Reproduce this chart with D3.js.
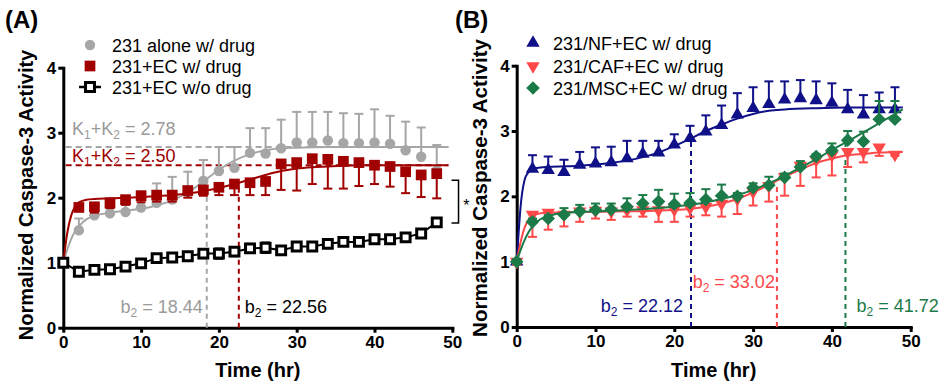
<!DOCTYPE html>
<html lang="en">
<head>
<meta charset="UTF-8">
<title>Caspase-3 activity</title>
<script src="https://cdn.jsdelivr.net/npm/d3@7"></script>
<style>
	body { margin: 0; background: #fff; }
	text { font-family: "Liberation Sans", Arial, sans-serif; }
</style>
</head>
<body>
<svg id="viz"></svg>
<script>
// Sampling times (hr) ---
const hours = [0, 2, 4, 6, 8, 10, 12, 14, 16, 18, 20, 22, 24, 26, 28, 30, 32, 34, 36, 38, 40, 42, 44, 46, 48];

// Panel A data ---
const aloneMean = [1.00, 1.50, 1.73, 1.76, 1.78, 1.85, 1.92, 1.97, 2.08, 2.26, 2.41, 2.46, 2.69, 2.68, 2.76, 2.85, 2.85, 2.88, 2.84, 2.84, 2.85, 2.83, 2.73, 2.63, 2.42];
const aloneErr = [0, 0.18, 0.10, 0.10, 0.15, 0.25, 0.30, 0.35, 0.32, 0.32, 0.37, 0.32, 0.38, 0.39, 0.44, 0.47, 0.47, 0.44, 0.46, 0.45, 0.51, 0.43, 0.44, 0.45, 0.39];
const ecDrugMean = [1.00, 1.85, 1.86, 1.92, 1.97, 2.03, 2.04, 2.04, 2.11, 2.12, 2.16, 2.21, 2.23, 2.25, 2.52, 2.54, 2.60, 2.59, 2.56, 2.54, 2.50, 2.48, 2.40, 2.35, 2.37];
const ecDrugErr = [0, 0.05, 0.09, 0.08, 0.08, 0.10, 0.10, 0.10, 0.11, 0.09, 0.12, 0.17, 0.19, 0.21, 0.40, 0.43, 0.39, 0.45, 0.42, 0.36, 0.29, 0.31, 0.33, 0.34, 0.38];
const ecNoDrugMean = [1.00, 0.86, 0.89, 0.90, 0.94, 0.99, 1.07, 1.08, 1.10, 1.14, 1.14, 1.17, 1.22, 1.23, 1.19, 1.25, 1.25, 1.29, 1.32, 1.32, 1.36, 1.36, 1.39, 1.45, 1.62];
const ecNoDrugErr = [0.04, 0.04, 0.04, 0.04, 0.04, 0.05, 0.05, 0.05, 0.05, 0.07, 0.08, 0.07, 0.07, 0.08, 0.04, 0.04, 0.04, 0.04, 0.04, 0.04, 0.04, 0.04, 0.04, 0.04, 0.04];

// fitted curves
const aloneFitT = [0, 0.5, 1, 1.5, 2, 3, 4, 6, 8, 10, 12, 14, 16, 18, 20, 22, 24, 26, 28, 30, 34, 40, 49.5];
const aloneFitV = [1.00, 1.20, 1.36, 1.48, 1.56, 1.67, 1.72, 1.77, 1.80, 1.83, 1.88, 1.96, 2.08, 2.25, 2.43, 2.57, 2.67, 2.73, 2.76, 2.77, 2.78, 2.78, 2.78];
const ecDrugFitT = [0, 0.5, 1, 1.5, 2, 3, 4, 6, 10, 14, 18, 20, 22, 24, 26, 28, 30, 32, 34, 38, 49.5];
const ecDrugFitV = [1.00, 1.45, 1.72, 1.86, 1.93, 1.97, 1.98, 1.99, 2.01, 2.04, 2.10, 2.15, 2.21, 2.28, 2.35, 2.41, 2.45, 2.47, 2.48, 2.50, 2.50];

const plateauA = [2.78, 2.50];
const b2A = [18.44, 22.56];
const b2TopA = [2.27, 2.22];

// Panel B data ---
const nfMean = [1.00, 2.42, 2.40, 2.37, 2.48, 2.50, 2.52, 2.58, 2.65, 2.67, 2.79, 2.89, 2.99, 3.09, 3.25, 3.35, 3.41, 3.48, 3.50, 3.47, 3.43, 3.33, 3.25, 3.33, 3.33];
const nfErr = [0, 0.21, 0.21, 0.19, 0.20, 0.25, 0.24, 0.27, 0.20, 0.18, 0.16, 0.19, 0.25, 0.30, 0.33, 0.32, 0.35, 0.28, 0.28, 0.29, 0.30, 0.30, 0.30, 0.26, 0.34];
const cafMean = [1.00, 1.72, 1.75, 1.72, 1.77, 1.78, 1.77, 1.79, 1.79, 1.79, 1.80, 1.82, 1.84, 1.89, 1.96, 2.07, 2.16, 2.30, 2.47, 2.56, 2.63, 2.68, 2.68, 2.75, 2.64];
const cafErr = [0.05, 0.34, 0.26, 0.18, 0.16, 0.12, 0.13, 0.10, 0.10, 0.18, 0.19, 0.13, 0.13, 0.20, 0.23, 0.21, 0.24, 0.29, 0.31, 0.27, 0.31, 0.23, 0.16, 0.13, 0.02];
const mscMean = [1.00, 1.61, 1.66, 1.72, 1.77, 1.79, 1.80, 1.84, 1.89, 1.92, 1.88, 1.90, 1.95, 2.01, 2.00, 2.13, 2.17, 2.29, 2.45, 2.61, 2.70, 2.86, 2.84, 3.18, 3.18];
const mscErr = [0.04, 0.05, 0.05, 0.10, 0.10, 0.10, 0.09, 0.13, 0.13, 0.18, 0.16, 0.15, 0.16, 0.17, 0.05, 0.07, 0.13, 0.06, 0.09, 0.04, 0.11, 0.14, 0.15, 0.28, 0.28];

const nfFitT = [0, 0.25, 0.5, 1, 1.5, 2, 3, 4, 8, 12, 16, 18, 20, 22, 24, 26, 28, 30, 32, 34, 38, 42, 49];
const nfFitV = [1.00, 1.45, 1.85, 2.25, 2.37, 2.42, 2.44, 2.45, 2.47, 2.51, 2.60, 2.67, 2.77, 2.88, 3.00, 3.10, 3.19, 3.26, 3.31, 3.33, 3.35, 3.36, 3.36];
const cafFitT = [0, 0.5, 1, 1.5, 2, 3, 4, 8, 14, 20, 24, 26, 28, 30, 32, 34, 36, 38, 40, 42, 44, 46, 49];
const cafFitV = [1.00, 1.30, 1.52, 1.64, 1.70, 1.74, 1.75, 1.76, 1.77, 1.79, 1.84, 1.89, 1.96, 2.06, 2.18, 2.30, 2.41, 2.51, 2.58, 2.63, 2.65, 2.67, 2.68];
const mscFitT = [0, 0.5, 1, 1.5, 2, 3, 4, 6, 10, 14, 18, 22, 24, 26, 28, 30, 32, 34, 36, 38, 40, 42, 44, 46, 49];
const mscFitV = [1.00, 1.18, 1.33, 1.45, 1.54, 1.65, 1.70, 1.75, 1.77, 1.79, 1.82, 1.87, 1.91, 1.96, 2.02, 2.10, 2.20, 2.31, 2.44, 2.57, 2.71, 2.84, 2.98, 3.12, 3.33];

const b2B = [22.12, 33.02, 41.72];
const b2TopB = [2.88, 2.18, 2.82];

// Colours ---
const C = {
	gray: '#a6a6a6',
	darkRed: '#a00000',
	black: '#000',
	navy: '#101088',
	red: '#ff4848',
	green: '#1b7a47'
};

const W = 947, H = 387;
const svg = d3.select('#viz').attr('width', W).attr('height', H);

// Helpers ---
function drawAxes(g, x, y, yLabelX, yLabelY, yLabelSize) {
	const ax = g.append('g').attr('transform', `translate(0,${y(0)})`)
		.call(d3.axisBottom(x).tickValues([0, 10, 20, 30, 40, 50]).tickFormat(d3.format('d'))
			.tickSize(5).tickSizeOuter(0).tickPadding(3));
	const ay = g.append('g').attr('transform', `translate(${x(0)},0)`)
		.call(d3.axisLeft(y).tickValues([0, 1, 2, 3, 4]).tickFormat(d3.format('d'))
			.tickSize(5).tickSizeOuter(0).tickPadding(2));
	[ax, ay].forEach(a => {
		a.select('.domain').attr('stroke-width', 3).attr('stroke-linecap', 'square');
		a.selectAll('.tick line').attr('stroke-width', 3);
		a.selectAll('.tick text').attr('font-size', 17).attr('font-weight', 'bold')
			.attr('font-family', '"Liberation Sans", Arial, sans-serif').attr('fill', '#000');
	});
	g.append('text')
		.attr('transform', `translate(${yLabelX},${yLabelY}) rotate(-90)`)
		.attr('text-anchor', 'middle')
		.attr('font-size', yLabelSize).attr('font-weight', 'bold')
		.text('Normalized Caspase-3 Activity');
	g.append('text')
		.attr('x', (x(0) + x(50)) / 2).attr('y', 377)
		.attr('text-anchor', 'middle')
		.attr('font-size', 20).attr('font-weight', 'bold')
		.text('Time (hr)');
}

function subText(g, px, py, parts, color, anchor) {
	// parts: [text, isSub]
	const t = g.append('text').attr('x', px).attr('y', py)
		.attr('fill', color).attr('font-size', 18).attr('text-anchor', anchor || 'start');
	let down = false;
	parts.forEach(([s, sub]) => {
		const sp = t.append('tspan').text(s);
		if (sub && !down) { sp.attr('dy', 4).attr('font-size', 12); down = true; }
		else if (sub) { sp.attr('font-size', 12); }
		else if (down) { sp.attr('dy', -4); down = false; }
	});
	return t;
}

const symbolPaths = {
	circle: d3.symbol(d3.symbolCircle, 85)(),
	square: d3.symbol(d3.symbolSquare, 115)(),
	openSquare: d3.symbol(d3.symbolSquare, 80)(),
	triangle: d3.symbol(d3.symbolTriangle, 78)(),
	diamond: 'M0,-6.8L6.8,0L0,6.8L-6.8,0Z'
};

function drawMarker(g, shape, color, px, py, rot) {
	const p = g.append('path').attr('d', symbolPaths[shape])
		.attr('transform', `translate(${px},${py})` + (rot ? ` rotate(${rot})` : ''));
	if (shape === 'openSquare') p.attr('fill', '#fff').attr('stroke', color).attr('stroke-width', 3);
	else p.attr('fill', color);
}

function drawSeries(g, x, y, s) {
	const pts = hours.map((t, i) => ({ t, m: s.mean[i], e: s.err[i] }));
	const eb = g.append('g').attr('stroke', s.color).attr('stroke-width', 2).attr('fill', 'none');
	pts.forEach(d => {
		if (d.e <= 0) return;
		const ends = s.dir === 'both' ? [d.m - d.e, d.m + d.e] : [d.m, d.m + s.dir * d.e];
		eb.append('line').attr('x1', x(d.t)).attr('x2', x(d.t)).attr('y1', y(ends[0])).attr('y2', y(ends[1]));
		const caps = s.dir === 'both' ? ends : [ends[1]];
		caps.forEach(v => eb.append('line')
			.attr('x1', x(d.t) - 4.5).attr('x2', x(d.t) + 4.5).attr('y1', y(v)).attr('y2', y(v)));
	});
	if (s.fitT) {
		g.append('path')
			.datum(s.fitT.map((t, i) => [t, s.fitV[i]]))
			.attr('fill', 'none').attr('stroke', s.color).attr('stroke-width', 2)
			.attr('d', d3.line().x(d => x(d[0])).y(d => y(d[1])).curve(d3.curveMonotoneX));
	}
	if (s.connect) {
		g.append('path').datum(pts)
			.attr('fill', 'none').attr('stroke', s.color).attr('stroke-width', 2)
			.attr('d', d3.line().x(d => x(d.t)).y(d => y(d.m)));
	}
	pts.forEach(d => drawMarker(g, s.shape, s.color, x(d.t), y(d.m), s.rot));
}

function drawLegend(g, lx, tx, ys, series) {
	series.forEach((s, i) => {
		if (s.connect) {
			g.append('line').attr('x1', lx - 11).attr('x2', lx + 11).attr('y1', ys[i]).attr('y2', ys[i])
				.attr('stroke', s.color).attr('stroke-width', 2.5);
		}
		drawMarker(g, s.shape, s.color, lx, ys[i], s.rot);
		g.append('text').attr('x', tx).attr('y', ys[i] + 6.5)
			.attr('font-size', 18).attr('fill', '#000').text(s.name);
	});
}

function vDashed(g, x, y, t, top, color) {
	g.append('line').attr('x1', x(t)).attr('x2', x(t)).attr('y1', y(0)).attr('y2', y(top))
		.attr('stroke', color).attr('stroke-width', 2).attr('stroke-dasharray', '5,4');
}

// ---------- Panel A ----------
const xA = d3.scaleLinear().domain([0, 50]).range([63.3, 452.3]);
const yA = d3.scaleLinear().domain([0, 4]).range([327.7, 67.7]);
const gA = svg.append('g');

svg.append('text').attr('x', 5).attr('y', 28).attr('font-size', 24).attr('font-weight', 'bold').text('(A)');
drawAxes(gA, xA, yA, 33, 195, 20);

const seriesA = [
	{ name: '231 alone w/ drug', mean: aloneMean, err: aloneErr, dir: 1, color: C.gray, shape: 'circle', fitT: aloneFitT, fitV: aloneFitV },
	{ name: '231+EC w/ drug', mean: ecDrugMean, err: ecDrugErr, dir: -1, color: C.darkRed, shape: 'square', fitT: ecDrugFitT, fitV: ecDrugFitV },
	{ name: '231+EC w/o drug', mean: ecNoDrugMean, err: ecNoDrugErr, dir: 'both', color: C.black, shape: 'openSquare', connect: true }
];

// plateau dashed lines
[C.gray, C.darkRed].forEach((c, i) => {
	gA.append('line').attr('x1', xA(0.3)).attr('x2', xA(49.5)).attr('y1', yA(plateauA[i])).attr('y2', yA(plateauA[i]))
		.attr('stroke', c).attr('stroke-width', 2).attr('stroke-dasharray', '6,4');
});
vDashed(gA, xA, yA, b2A[0], b2TopA[0], C.gray);
vDashed(gA, xA, yA, b2A[1], b2TopA[1], C.darkRed);

seriesA.forEach(s => drawSeries(gA, xA, yA, s));
drawLegend(gA, 90, 112, [45, 66, 87], seriesA);

subText(gA, 72, yA(plateauA[0]) - 12, [['K'], ['1', 1], ['+K'], ['2', 1], [' = ' + plateauA[0].toFixed(2)]], '#9a9a9a');
subText(gA, 72, yA(plateauA[1]) - 3, [['K'], ['1', 1], ['+K'], ['2', 1], [' = ' + plateauA[1].toFixed(2)]], C.darkRed);
subText(gA, xA(b2A[0]) - 4, 313, [['b'], ['2', 1], [' = ' + b2A[0].toFixed(2)]], '#9a9a9a', 'end');
subText(gA, xA(b2A[1]) + 6, 313, [['b'], ['2', 1], [' = ' + b2A[1].toFixed(2)]], '#000');

// significance bracket
gA.append('path')
	.attr('d', `M${xA(49.9)},${yA(2.27)}H${xA(50.8)}V${yA(1.61)}H${xA(49.9)}`)
	.attr('fill', 'none').attr('stroke', '#000').attr('stroke-width', 1.5);
gA.append('text').attr('x', xA(51.4)).attr('y', yA(1.94) + 9).attr('font-size', 16).text('*');

// ---------- Panel B ----------
const xB = d3.scaleLinear().domain([0, 50]).range([516.7, 910.7]);
const yB = d3.scaleLinear().domain([0, 4]).range([327, 65.7]);
const gB = svg.append('g');

svg.append('text').attr('x', 455).attr('y', 28).attr('font-size', 24).attr('font-weight', 'bold').text('(B)');
drawAxes(gB, xB, yB, 486.5, 188, 20.5);

const seriesB = [
	{ name: '231/NF+EC w/ drug', mean: nfMean, err: nfErr, dir: 1, color: C.navy, shape: 'triangle', fitT: nfFitT, fitV: nfFitV },
	{ name: '231/CAF+EC w/ drug', mean: cafMean, err: cafErr, dir: -1, color: C.red, shape: 'triangle', rot: 180, fitT: cafFitT, fitV: cafFitV },
	{ name: '231/MSC+EC w/ drug', mean: mscMean, err: mscErr, dir: 1, color: C.green, shape: 'diamond', fitT: mscFitT, fitV: mscFitV }
];

vDashed(gB, xB, yB, b2B[0], b2TopB[0], C.navy);
vDashed(gB, xB, yB, b2B[1], b2TopB[1], C.red);
vDashed(gB, xB, yB, b2B[2], b2TopB[2], C.green);

seriesB.forEach(s => drawSeries(gB, xB, yB, s));
drawLegend(gB, 533, 553, [43, 66, 88], seriesB);

subText(gB, xB(b2B[0]) - 8, 312, [['b'], ['2', 1], [' = ' + b2B[0].toFixed(2)]], C.navy, 'end');
subText(gB, xB(b2B[1]) - 2, 288, [['b'], ['2', 1], [' = ' + b2B[1].toFixed(2)]], C.red, 'end');
subText(gB, xB(b2B[2]) + 11, 312, [['b'], ['2', 1], [' = ' + b2B[2].toFixed(2)]], C.green);
</script>
</body>
</html>
